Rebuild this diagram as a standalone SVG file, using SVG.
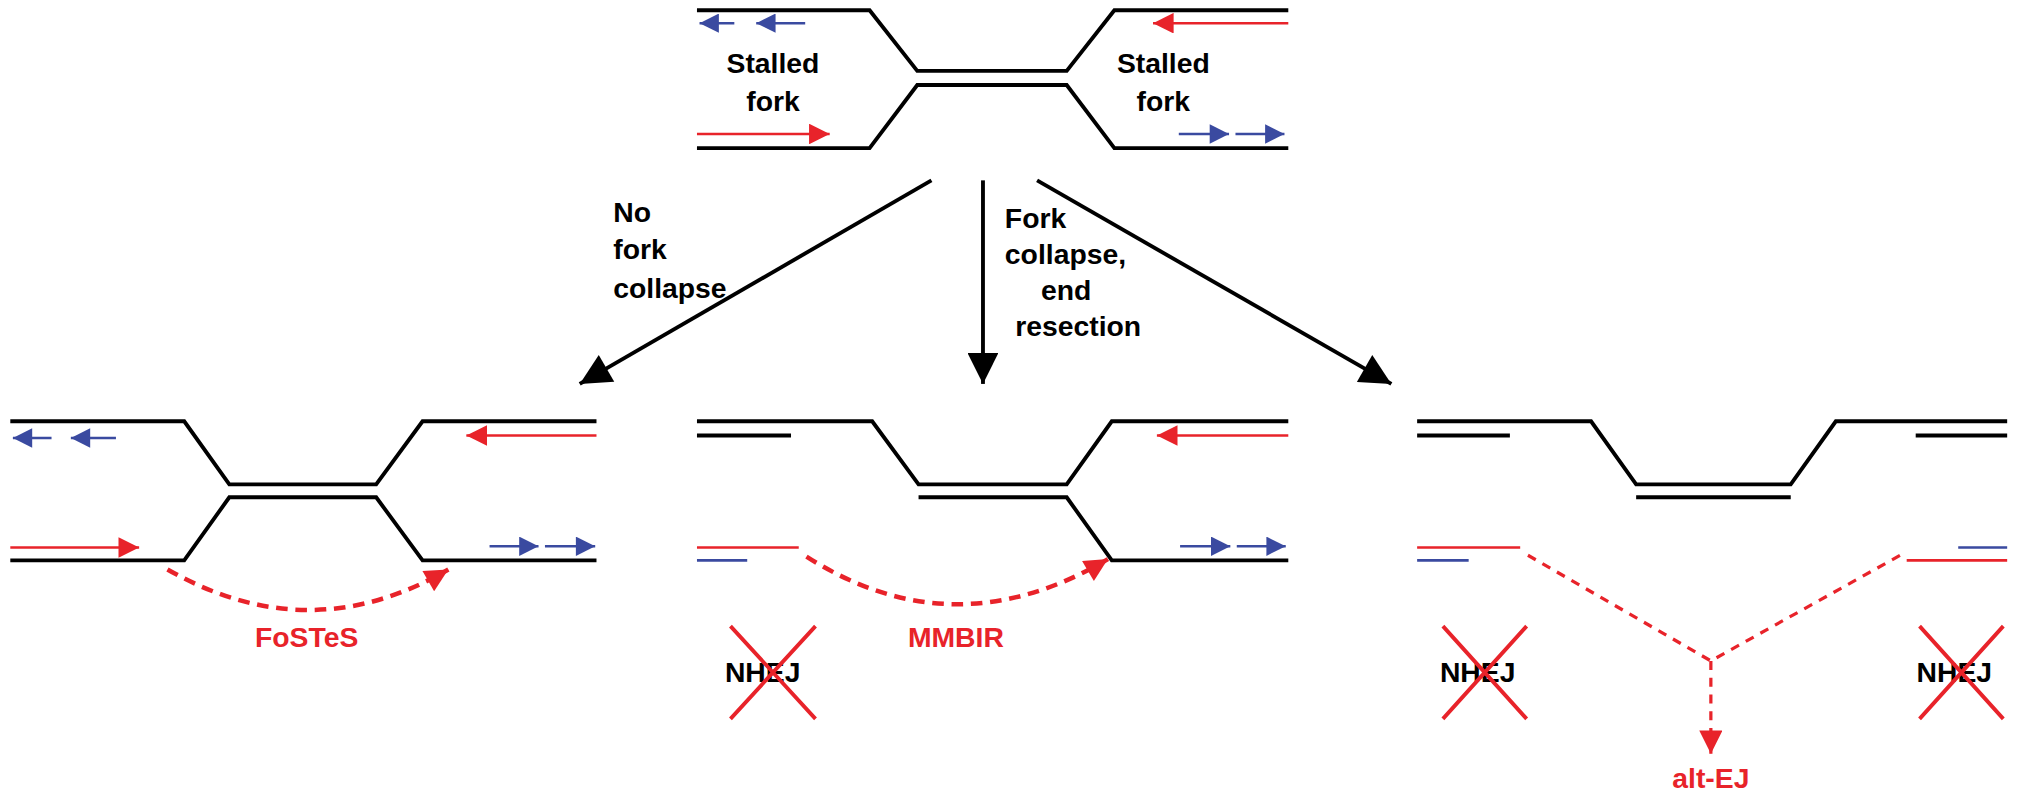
<svg xmlns="http://www.w3.org/2000/svg" width="2020" height="800" viewBox="0 0 2020 800">
<style>
.k{fill:none;stroke:#000;stroke-width:3}
.r{fill:none;stroke:#e8232a;stroke-width:2}
.b{fill:none;stroke:#3a4aa0;stroke-width:2}
.rd{fill:none;stroke:#e8232a;stroke-width:3.5;stroke-dasharray:9 6}
.rt{fill:none;stroke:#e8232a;stroke-width:2.5;stroke-dasharray:7 6}
.x{stroke:#e8232a;stroke-width:3}
.t{font-family:"Liberation Sans",Arial,sans-serif;font-weight:bold;font-size:22px}
.tr{font-family:"Liberation Sans",Arial,sans-serif;font-weight:bold;font-size:22px;fill:#e8232a}
</style>
<defs>
<marker id="ra" viewBox="0 0 10 10" refX="10" refY="5" markerWidth="26" markerHeight="16" markerUnits="userSpaceOnUse" orient="auto"><path d="M0,0L10,5L0,10z" fill="#e8232a"/></marker>
<marker id="ba" viewBox="0 0 10 10" refX="10" refY="5" markerWidth="22" markerHeight="15" markerUnits="userSpaceOnUse" orient="auto"><path d="M0,0L10,5L0,10z" fill="#3a4aa0"/></marker>
<marker id="rdh" viewBox="0 0 10 10" refX="10" refY="5" markerWidth="22" markerHeight="18" markerUnits="userSpaceOnUse" orient="auto"><path d="M0,0L10,5L0,10z" fill="#e8232a"/></marker>
<marker id="kh" viewBox="0 0 10 10" refX="10" refY="5" markerWidth="32" markerHeight="24" markerUnits="userSpaceOnUse" orient="auto"><path d="M0,0L10,5L0,10z" fill="#000"/></marker>
</defs>
<g transform="scale(1.2883)">
<g id="top-fork">
<path class="k" d="M541,8H675L712,55H828L865,8H1000"/>
<path class="k" d="M541,115H675L712,66H828L865,115H1000"/>
<path class="b" d="M570,18H543" marker-end="url(#ba)"/>
<path class="b" d="M625,18H587" marker-end="url(#ba)"/>
<path class="r" d="M1000,18H895" marker-end="url(#ra)"/>
<path class="r" d="M541,104H644" marker-end="url(#ra)"/>
<path class="b" d="M915,104H954" marker-end="url(#ba)"/>
<path class="b" d="M959,104H997" marker-end="url(#ba)"/>
<text class="t" x="600" y="57" text-anchor="middle">Stalled</text>
<text class="t" x="600" y="86" text-anchor="middle">fork</text>
<text class="t" x="903" y="57" text-anchor="middle">Stalled</text>
<text class="t" x="903" y="86" text-anchor="middle">fork</text>
</g>
<g id="connectors">
<path class="k" d="M723,140L450,298" marker-end="url(#kh)"/>
<path class="k" d="M763,140V298" marker-end="url(#kh)"/>
<path class="k" d="M805,140L1080,298" marker-end="url(#kh)"/>
<text class="t" x="476" y="172">No</text>
<text class="t" x="476" y="201">fork</text>
<text class="t" x="476" y="231">collapse</text>
<text class="t" x="780" y="177">Fork</text>
<text class="t" x="780" y="205">collapse,</text>
<text class="t" x="808" y="233">end</text>
<text class="t" x="788" y="261">resection</text>
</g>
<g id="fostes">
<path class="k" d="M8,327H143L178,376H292L328,327H463"/>
<path class="k" d="M8,435H143L178,386H292L328,435H463"/>
<path class="b" d="M40,340H10" marker-end="url(#ba)"/>
<path class="b" d="M90,340H55" marker-end="url(#ba)"/>
<path class="r" d="M463,338H362" marker-end="url(#ra)"/>
<path class="r" d="M8,425H108" marker-end="url(#ra)"/>
<path class="b" d="M380,424H418" marker-end="url(#ba)"/>
<path class="b" d="M423,424H462" marker-end="url(#ba)"/>
<path class="rd" d="M130,442Q240,505 348,442" marker-end="url(#rdh)"/>
<text class="tr" x="238" y="502" text-anchor="middle">FoSTeS</text>
</g>
<g id="mmbir">
<path class="k" d="M541,327H677L713,376H828L863,327H1000"/>
<path class="k" d="M541,338H614"/>
<path class="k" d="M713,386H828L863,435H1000"/>
<path class="r" d="M1000,338H898" marker-end="url(#ra)"/>
<path class="b" d="M916,424H955" marker-end="url(#ba)"/>
<path class="b" d="M960,424H998" marker-end="url(#ba)"/>
<path class="r" d="M541,425H620"/>
<path class="b" d="M541,435H580"/>
<text class="t" x="592" y="529" text-anchor="middle">NHEJ</text>
<path class="x" d="M567,486L633,558M633,486L567,558"/>
<path class="rd" d="M626,432Q740,505 860,434" marker-end="url(#rdh)"/>
<text class="tr" x="742" y="502" text-anchor="middle">MMBIR</text>
</g>
<g id="alt-ej">
<path class="k" d="M1100,327H1235L1270,376H1390L1425,327H1558"/>
<path class="k" d="M1100,338H1172M1487,338H1558M1270,386H1390"/>
<path class="r" d="M1100,425H1180M1480,435H1558"/>
<path class="b" d="M1100,435H1140M1520,425H1558"/>
<text class="t" x="1147" y="529" text-anchor="middle">NHEJ</text>
<path class="x" d="M1120,486L1185,558M1185,486L1120,558"/>
<text class="t" x="1517" y="529" text-anchor="middle">NHEJ</text>
<path class="x" d="M1490,486L1555,558M1555,486L1490,558"/>
<path class="rt" d="M1186,431L1328,513L1475,431"/>
<path class="rt" d="M1328,513V585" marker-end="url(#rdh)"/>
<text class="tr" x="1328" y="612" text-anchor="middle">alt-EJ</text>
</g>
</g>
</svg>
